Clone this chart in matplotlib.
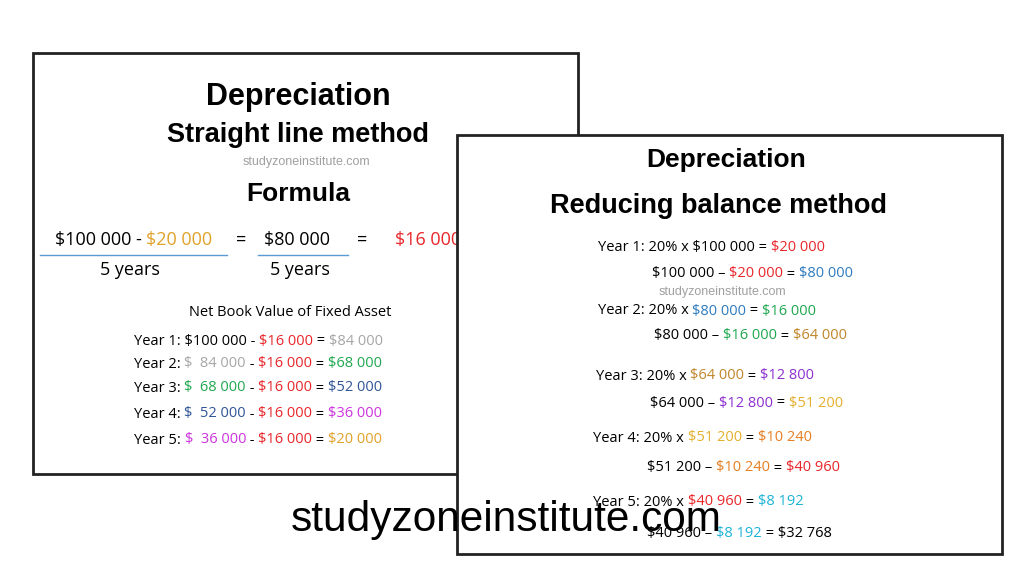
import matplotlib.pyplot as plt
from matplotlib.patches import Rectangle

RED = '#e8262a'
GOLD = '#e0a22a'
GRAY = '#a6a6a6'
GREEN = '#1fa84f'
NAVY = '#2f5597'
MAGENTA = '#cc33dd'
BLUE = '#2e7bbf'
BROWN = '#c0862a'
PURPLE = '#8e2fd0'
YELLOW = '#e5b02e'
ORANGE = '#e67e22'
CYAN = '#1db3d6'
K = 'black'

# left slide
formula_top = [('$100 000 - ', K), ('$20 000', GOLD)]
formula_mid = [('$80 000', K)]
formula_res = [('$16 000', RED)]
left_years = [
    [('Year 1: $100 000 - ', K), ('$16 000', RED), (' = ', K), ('$84 000', GRAY)],
    [('Year 2: ', K), ('$  84 000', GRAY), (' - ', K), ('$16 000', RED), (' = ', K), ('$68 000', GREEN)],
    [('Year 3: ', K), ('$  68 000', GREEN), (' - ', K), ('$16 000', RED), (' = ', K), ('$52 000', NAVY)],
    [('Year 4: ', K), ('$  52 000', NAVY), (' - ', K), ('$16 000', RED), (' = ', K), ('$36 000', MAGENTA)],
    [('Year 5: ', K), ('$  36 000', MAGENTA), (' - ', K), ('$16 000', RED), (' = ', K), ('$20 000', GOLD)],
]
left_year_y = [341, 364, 388, 414, 440]

# right slide
right_lines = [
    [('Year 1: 20% x $100 000 = ', K), ('$20 000', RED)],
    [('$100 000 \u2013 ', K), ('$20 000', RED), (' = ', K), ('$80 000', BLUE)],
    [('Year 2: 20% x ', K), ('$80 000', BLUE), (' = ', K), ('$16 000', GREEN)],
    [('$80 000 \u2013 ', K), ('$16 000', GREEN), (' = ', K), ('$64 000', BROWN)],
    [('Year 3: 20% x ', K), ('$64 000', BROWN), (' = ', K), ('$12 800', PURPLE)],
    [('$64 000 \u2013 ', K), ('$12 800', PURPLE), (' = ', K), ('$51 200', YELLOW)],
    [('Year 4: 20% x ', K), ('$51 200', YELLOW), (' = ', K), ('$10 240', ORANGE)],
    [('$51 200 \u2013 ', K), ('$10 240', ORANGE), (' = ', K), ('$40 960', RED)],
    [('Year 5: 20% x ', K), ('$40 960', RED), (' = ', K), ('$8 192', CYAN)],
    [('$40 960 \u2013 ', K), ('$8 192', CYAN), (' = $32 768', K)],
]
right_x = [598, 652, 598, 654, 596, 650, 593, 647, 593, 647]
right_y = [248, 274, 311, 336, 376, 403, 438, 468, 502, 533]

BODY = 'Open Sans'
HEAD = 'Liberation Sans'


def segments(ax, x, y, parts, size, z, family=BODY):
    t = ax.text(x, y, parts[0][0], color=parts[0][1], fontsize=size, family=family,
                ha='left', va='center', zorder=z)
    for s, c in parts[1:]:
        t = ax.annotate(s, xy=(1, 0.5), xycoords=t, color=c, fontsize=size, family=family,
                        ha='left', va='center', zorder=z)
    return t


fig = plt.figure(figsize=(10.24, 5.76), dpi=100)
ax = fig.add_axes([0, 0, 1, 1])
ax.set_xlim(0, 1024)
ax.set_ylim(576, 0)
ax.axis('off')

# left slide
ax.add_patch(Rectangle((33, 53), 545, 421, fill=False, ec='#222222', lw=2, zorder=1))
ax.text(298, 97, 'Depreciation', ha='center', va='center', fontsize=22, weight='bold', family=HEAD, zorder=2)
ax.text(298, 135, 'Straight line method', ha='center', va='center', fontsize=19.5, weight='bold', family=HEAD, zorder=2)
ax.text(306, 162, 'studyzoneinstitute.com', ha='center', va='center', fontsize=9, color='#a0a0a0', family=HEAD, zorder=2)
ax.text(298, 194, 'Formula', ha='center', va='center', fontsize=19, weight='bold', family=HEAD, zorder=2)

segments(ax, 55, 240, formula_top, 13, 2)
ax.text(236, 240, '=', fontsize=13, family=BODY, va='center', zorder=2)
segments(ax, 264, 240, formula_mid, 13, 2)
ax.text(357, 240, '=', fontsize=13, family=BODY, va='center', zorder=2)
segments(ax, 395, 240, formula_res, 13, 2)
ax.plot([40, 227], [255, 255], color='#5b9bd5', lw=1, zorder=2)
ax.plot([258, 348], [255, 255], color='#5b9bd5', lw=1, zorder=2)
ax.text(130, 270, '5 years', ha='center', va='center', fontsize=13, family=BODY, zorder=2)
ax.text(300, 270, '5 years', ha='center', va='center', fontsize=13, family=BODY, zorder=2)

ax.text(290, 313, 'Net Book Value of Fixed Asset', ha='center', va='center', fontsize=10.5, family=BODY, zorder=2)
for parts, y in zip(left_years, left_year_y):
    segments(ax, 134, y, parts, 10.5, 2)

# right slide
ax.add_patch(Rectangle((457, 135), 545, 419, fc='white', ec='#222222', lw=2, zorder=3))
ax.text(726, 160, 'Depreciation', ha='center', va='center', fontsize=19, weight='bold', family=HEAD, zorder=4)
ax.text(718, 206, 'Reducing balance method', ha='center', va='center', fontsize=19.5, weight='bold', family=HEAD, zorder=4)
ax.text(722, 292, 'studyzoneinstitute.com', ha='center', va='center', fontsize=9, color='#a0a0a0', family=HEAD, zorder=4)
for parts, x, y in zip(right_lines, right_x, right_y):
    segments(ax, x, y, parts, 10.5, 4)

ax.text(506, 520, 'studyzoneinstitute.com', ha='center', va='center', fontsize=30.5, family=HEAD, zorder=6)

fig.savefig('out.png', dpi=100, facecolor='white')
